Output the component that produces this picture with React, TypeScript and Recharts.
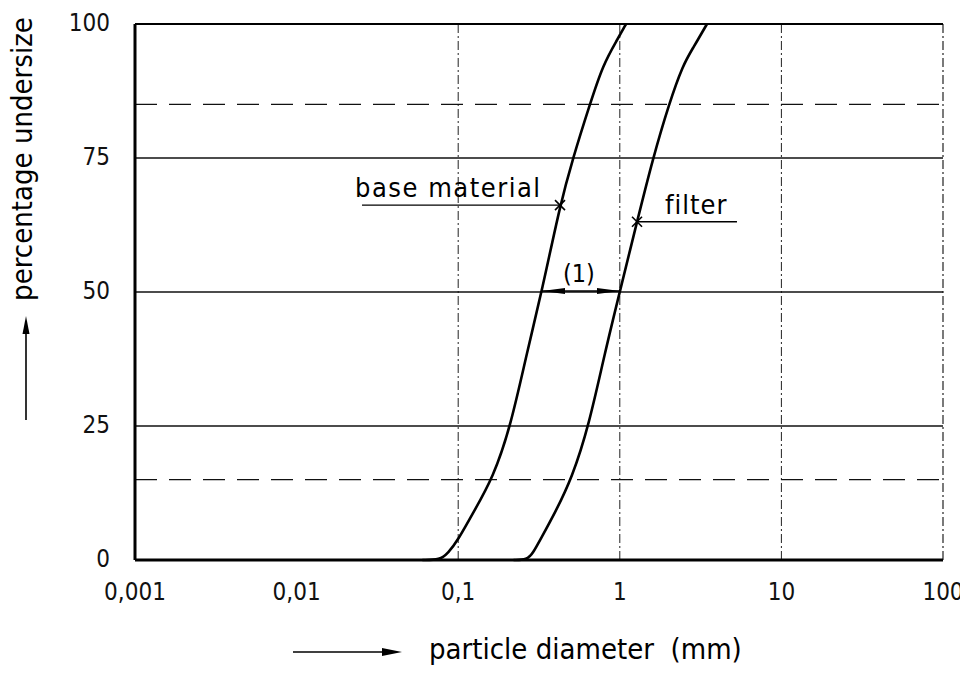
import React from 'react';
import { LineChart, Line, XAxis, YAxis, ReferenceLine, ReferenceDot } from 'recharts';

// ---- data ----
const xTicks = [0.001, 0.01, 0.1, 1, 10, 100];
const xTickLabels = ['0,001', '0,01', '0,1', '1', '10', '100'];
const yTicks = [0, 25, 50, 75, 100];

const baseDiameter = [0.06, 0.0772, 0.0865, 0.0997, 0.1235, 0.1642, 0.2122, 0.2666, 0.33, 0.4266, 0.513, 0.654, 0.787, 0.961, 1.093];
const basePercent = [0, 0, 1.3, 3.7, 8.8, 15.3, 25.2, 38.8, 50.2, 66.2, 75, 85.1, 92.4, 97.0, 100];

const filterDiameter = [0.22, 0.2666, 0.2903, 0.3208, 0.397, 0.506, 0.645, 0.81, 1.003, 1.278, 1.605, 2.016, 2.461, 2.838, 3.464];
const filterPercent = [0, 0, 1.3, 3.7, 8.8, 15.3, 25.2, 38.8, 50.2, 63.1, 75, 85.1, 92.4, 95.5, 100];

const dashedLevels = [85, 15];
const solidLevels = [25, 50, 75];
const verticalGrid = [0.1, 1, 10];

// annotation anchors (data coordinates)
const baseLabel = { text: 'base material', d0: 0.0254, d1: 0.4266, p: 66.2 };
const filterLabel = { text: 'filter', d0: 1.278, d1: 5.31, p: 63.1 };
const bracketLabel = { text: '(1)', d: 0.559, p: 50.2, from: 0.33, to: 1.003 };

const baseData = baseDiameter.map((d, i) => ({ d, p: basePercent[i] }));
const filterData = filterDiameter.map((d, i) => ({ d, p: filterPercent[i] }));

const FONT = "'DejaVu Sans Condensed', 'DejaVu Sans', sans-serif";
const W = 968;
const H = 673;

const XTick = (props: any) => {
  const { x, y, payload } = props;
  const idx = xTicks.indexOf(payload.value);
  return (
    <text x={x} y={y + 32} textAnchor="middle" dominantBaseline="central" fontFamily={FONT}
      style={{ fontStretch: 'condensed' }} fontSize={24} fill="#111">
      {idx >= 0 ? xTickLabels[idx] : payload.value}
    </text>
  );
};

const YTick = (props: any) => {
  const { x, y, payload } = props;
  return (
    <text x={x - 25} y={y - 1} textAnchor="end" dominantBaseline="central" fontFamily={FONT}
      style={{ fontStretch: 'condensed' }} fontSize={24} fill="#111">
      {payload.value}
    </text>
  );
};

const Cross = (props: any) => {
  const { cx, cy } = props;
  const s = 5;
  return (
    <g stroke="#000" strokeWidth={1.6}>
      <line x1={cx - s} y1={cy - s} x2={cx + s} y2={cy + s} />
      <line x1={cx - s} y1={cy + s} x2={cx + s} y2={cy - s} />
    </g>
  );
};

const makeText = (text: string, dx: number, dy: number, anchor: string, size: number, spacing = 0) => (props: any) => {
  const { cx, cy } = props;
  return (
    <text x={cx + dx} y={cy + dy} textAnchor={anchor} fontFamily={FONT} fontSize={size}
      style={{ fontStretch: 'condensed', letterSpacing: spacing }} fill="#000">
      {text}
    </text>
  );
};

const DoubleArrow = (props: any) => {
  const { x1, y1, x2 } = props;
  const y = y1;
  const left = Math.min(x1, x2);
  const right = Math.max(x1, x2);
  const L = 23;
  const h = 3;
  return (
    <g>
      <line x1={left} y1={y} x2={right} y2={y} stroke="#000" strokeWidth={1.6} />
      <polygon points={`${left},${y} ${left + L},${y - h} ${left + L},${y + h}`} fill="#000" />
      <polygon points={`${right},${y} ${right - L},${y - h} ${right - L},${y + h}`} fill="#000" />
    </g>
  );
};

export default function App() {
  return (
    <div style={{ position: 'relative', width: W, height: H, marginLeft: -8, marginTop: -8, marginBottom: -8 }}>
      <LineChart width={W} height={H} margin={{ top: 24, right: 25, left: 0, bottom: 0 }}>
        <XAxis
          type="number"
          dataKey="d"
          scale="log"
          domain={[0.001, 100]}
          ticks={xTicks}
          allowDataOverflow
          axisLine={false}
          tickLine={false}
          tickSize={0}
          tickMargin={0}
          height={113}
          tick={<XTick />}
        />
        <YAxis
          type="number"
          dataKey="p"
          domain={[0, 100]}
          ticks={yTicks}
          axisLine={false}
          tickLine={false}
          tickSize={0}
          tickMargin={0}
          width={135}
          tick={<YTick />}
        />

        {/* grid: vertical dash-dot lines */}
        {verticalGrid.map((v) => (
          <ReferenceLine key={'v' + v} x={v} stroke="#222" strokeWidth={1} strokeDasharray="9 3 2 3" />
        ))}
        <ReferenceLine x={100} stroke="#222" strokeWidth={1.2} strokeDasharray="9 3 2 3" />
        {/* horizontal lines */}
        {solidLevels.map((v) => (
          <ReferenceLine key={'s' + v} y={v} stroke="#111" strokeWidth={1.3} />
        ))}
        {dashedLevels.map((v) => (
          <ReferenceLine key={'d' + v} y={v} stroke="#111" strokeWidth={1.3} strokeDasharray="22 12" />
        ))}
        <ReferenceLine y={100} stroke="#000" strokeWidth={1.8} />
        <ReferenceLine y={0} stroke="#000" strokeWidth={3} />
        <ReferenceLine x={0.001} stroke="#000" strokeWidth={3} />

        {/* curves */}
        <Line data={baseData} dataKey="p" type="basis" stroke="#000" strokeWidth={2.6}
          dot={false} isAnimationActive={false} />
        <Line data={filterData} dataKey="p" type="basis" stroke="#000" strokeWidth={2.6}
          dot={false} isAnimationActive={false} />

        {/* annotations */}
        <ReferenceLine segment={[{ x: baseLabel.d0, y: baseLabel.p }, { x: baseLabel.d1, y: baseLabel.p }]}
          stroke="#000" strokeWidth={1.4} />
        <ReferenceDot x={baseLabel.d1} y={baseLabel.p} r={5} shape={<Cross />} />
        <ReferenceDot x={baseLabel.d0} y={baseLabel.p} r={1} shape={makeText(baseLabel.text, -7, -8, 'start', 27, 1.5)} />

        <ReferenceLine segment={[{ x: filterLabel.d0, y: filterLabel.p }, { x: filterLabel.d1, y: filterLabel.p }]}
          stroke="#000" strokeWidth={1.4} />
        <ReferenceDot x={filterLabel.d0} y={filterLabel.p} r={5} shape={<Cross />} />
        <ReferenceDot x={filterLabel.d0} y={filterLabel.p} r={1} shape={makeText(filterLabel.text, 28, -8, 'start', 27, 1)} />

        <ReferenceLine segment={[{ x: bracketLabel.from, y: bracketLabel.p }, { x: bracketLabel.to, y: bracketLabel.p }]}
          shape={DoubleArrow} />
        <ReferenceDot x={bracketLabel.d} y={bracketLabel.p} r={1} shape={makeText(bracketLabel.text, 0, -9, 'middle', 25)} />
      </LineChart>

      {/* axis titles with arrows */}
      <svg width={W} height={H} style={{ position: 'absolute', left: 0, top: 0, pointerEvents: 'none' }}>
        <text x={0} y={0} transform="translate(32,159) rotate(-90)" textAnchor="middle" fontFamily={FONT}
          style={{ fontStretch: 'condensed' }} fontSize={29} fill="#000">
          percentage undersize
        </text>
        <line x1={26} y1={420} x2={26} y2={328} stroke="#000" strokeWidth={1.6} />
        <polygon points="26,316 22.5,334 29.5,334" fill="#000" />

        <line x1={293} y1={652} x2={388} y2={652} stroke="#000" strokeWidth={1.6} />
        <polygon points="402,652 382,648 382,656" fill="#000" />
        <text x={429} y={659} textAnchor="start" fontFamily={FONT} style={{ fontStretch: 'condensed' }}
          fontSize={29} fill="#000" xmlSpace="preserve">
          particle diameter  (mm)
        </text>
      </svg>
    </div>
  );
}
